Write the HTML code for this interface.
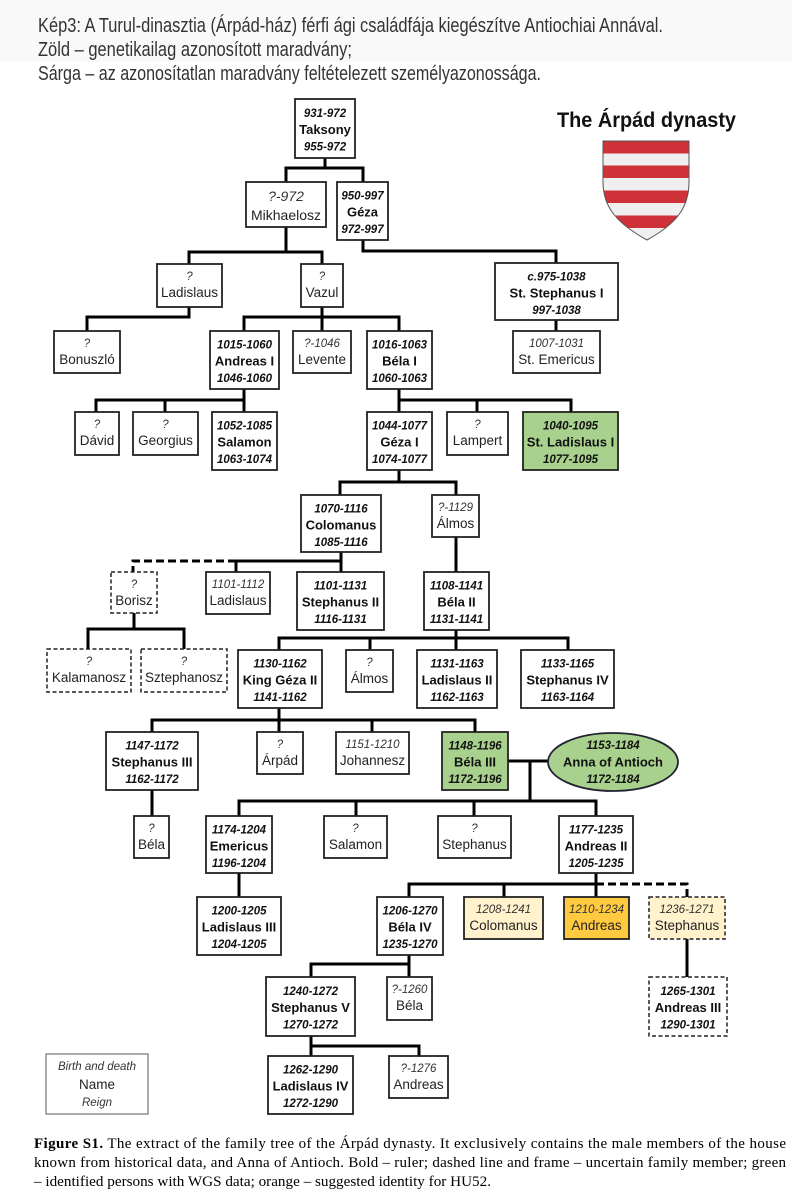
<!DOCTYPE html>
<html><head><meta charset="utf-8"><style>
html,body{margin:0;padding:0;background:#fff;}
svg{display:block;}
.dr{font-family:"Liberation Sans",sans-serif;font-size:11.5px;font-style:italic;font-weight:bold;fill:#111;}
.di{font-family:"Liberation Sans",sans-serif;font-size:11.5px;font-style:italic;fill:#333;}
.nb{font-family:"Liberation Sans",sans-serif;font-size:13px;font-weight:bold;fill:#111;}
.nr{font-family:"Liberation Sans",sans-serif;font-size:13.5px;fill:#222;}
.bx{fill:#fff;stroke:#222;stroke-width:1.8;}
.dbx{fill:#fff;stroke:#222;stroke-width:1.5;stroke-dasharray:4 2.5;}
.ln{fill:none;stroke:#000;stroke-width:3;}
.dl{fill:none;stroke:#000;stroke-width:3;stroke-dasharray:8 4;}
.hd{font-family:"Liberation Sans Narrow","Liberation Sans",sans-serif;font-size:20px;fill:#333;}
.cap{font-family:"Liberation Serif",serif;font-size:15px;fill:#000;}
</style></head><body>
<svg width="792" height="1200" viewBox="0 0 792 1200" xmlns="http://www.w3.org/2000/svg">
<rect x="0" y="0" width="792" height="1200" fill="#fff"/>
<rect x="0" y="0" width="792" height="62" fill="#f9f9f9"/>
<!-- header -->
<text class="hd" x="38" y="32" textLength="625" lengthAdjust="spacingAndGlyphs">Kép3: A Turul-dinasztia (Árpád-ház) férfi ági családfája kiegészítve Antiochiai Annával.</text>
<text class="hd" x="38" y="56" textLength="314" lengthAdjust="spacingAndGlyphs">Zöld – genetikailag azonosított maradvány;</text>
<text class="hd" x="38" y="80" textLength="503" lengthAdjust="spacingAndGlyphs">Sárga – az azonosítatlan maradvány feltételezett személyazonossága.</text>

<!-- title + shield -->
<text x="557" y="127" font-family="Liberation Sans,sans-serif" font-weight="bold" font-size="21" fill="#111" textLength="179" lengthAdjust="spacingAndGlyphs">The Árpád dynasty</text>
<defs><clipPath id="sh"><path d="M603 141H689V182C689 208 676 224 647 240C618 224 603 208 603 182Z"/></clipPath></defs>
<g clip-path="url(#sh)">
<rect x="600" y="140" width="92" height="102" fill="#efefef"/>
<rect x="600" y="140" width="92" height="13.5" fill="#cf3138"/>
<rect x="600" y="165.5" width="92" height="12.5" fill="#cf3138"/>
<rect x="600" y="190.5" width="92" height="12.5" fill="#cf3138"/>
<rect x="600" y="215.5" width="92" height="12.5" fill="#cf3138"/>
</g>
<path d="M603 141H689V182C689 208 676 224 647 240C618 224 603 208 603 182Z" fill="none" stroke="#555" stroke-width="1"/>

<!-- connectors -->
<path class="ln" d="M325 158V168M286 182V168H363V182"/>
<path class="ln" d="M286 227V252M189 264V252H322V264"/>
<path class="ln" d="M363 240V251H556V263"/>
<path class="ln" d="M556 320V331"/>
<path class="ln" d="M189 307V317H87V331"/>
<path class="ln" d="M322 307V331M244 331V317H399V331"/>
<path class="ln" d="M244 389V400M96 412V400H244V412M165 400V412"/>
<path class="ln" d="M399 389V412M399 400H571V412M477 400V412"/>
<path class="ln" d="M399 470V482M340 495V482H456V495"/>
<path class="ln" d="M341 552V572M341 561H236V572"/>
<path class="dl" d="M236 561H133V572"/>
<path class="ln" d="M456 537V572"/>
<path class="ln" d="M134 613V629M88 649V629H184V649"/>
<path class="ln" d="M456 630V650M279 650V638H568V650M370 638V650"/>
<path class="ln" d="M279 708V732M152 732V720H475V732M372 720V732"/>
<path class="ln" d="M508 761H548M530 761V801M239 816V801H596V816M356 801V816M474 801V816"/>
<path class="ln" d="M152 790V816"/>
<path class="ln" d="M239 873V897"/>
<path class="ln" d="M596 873V897M409 897V884H596M504 884V897"/>
<path class="dl" d="M596 884H687V897"/>
<path class="ln" d="M687 939V977"/>
<path class="ln" d="M409 955V977M311 977V964H409"/>
<path class="ln" d="M311 1036V1056M311 1046H419V1056"/>

<!-- Taksony -->
<rect class="bx" x="295" y="99" width="60" height="59"/>
<text class="dr" x="325" y="117" text-anchor="middle">931-972</text>
<text class="nb" x="325" y="134" text-anchor="middle">Taksony</text>
<text class="dr" x="325" y="150.5" text-anchor="middle">955-972</text>
<!-- Mikhaelosz -->
<rect class="bx" x="246" y="182" width="80" height="45"/>
<text class="di" x="286" y="201" text-anchor="middle" style="font-size:14px">?-972</text>
<text class="nr" x="286" y="220" text-anchor="middle" style="font-size:14px">Mikhaelosz</text>
<!-- Géza -->
<rect class="bx" x="337" y="182" width="51" height="58"/>
<text class="dr" x="362.5" y="199.5" text-anchor="middle">950-997</text>
<text class="nb" x="362.5" y="216.5" text-anchor="middle">Géza</text>
<text class="dr" x="362.5" y="233" text-anchor="middle">972-997</text>
<!-- Ladislaus -->
<rect class="bx" x="157" y="264" width="65" height="43"/>
<text class="di" x="189.5" y="280" text-anchor="middle">?</text>
<text class="nr" x="189.5" y="297" text-anchor="middle">Ladislaus</text>
<!-- Vazul -->
<rect class="bx" x="301" y="264" width="42" height="43"/>
<text class="di" x="322" y="280" text-anchor="middle">?</text>
<text class="nr" x="322" y="297" text-anchor="middle">Vazul</text>
<!-- St Stephanus I -->
<rect class="bx" x="495" y="263" width="123" height="57"/>
<text class="dr" x="556.5" y="280.5" text-anchor="middle">c.975-1038</text>
<text class="nb" x="556.5" y="297.5" text-anchor="middle">St. Stephanus I</text>
<text class="dr" x="556.5" y="314" text-anchor="middle">997-1038</text>
<!-- St Emericus -->
<rect class="bx" x="513" y="331" width="87" height="42"/>
<text class="di" x="556.5" y="347" text-anchor="middle">1007-1031</text>
<text class="nr" x="556.5" y="364" text-anchor="middle">St. Emericus</text>
<!-- Bonuszló -->
<rect class="bx" x="54" y="331" width="66" height="42"/>
<text class="di" x="87" y="347" text-anchor="middle">?</text>
<text class="nr" x="87" y="364" text-anchor="middle">Bonuszló</text>
<!-- Andreas I -->
<rect class="bx" x="210" y="331" width="69" height="58"/>
<text class="dr" x="244.5" y="348.5" text-anchor="middle">1015-1060</text>
<text class="nb" x="244.5" y="365.5" text-anchor="middle">Andreas I</text>
<text class="dr" x="244.5" y="382" text-anchor="middle">1046-1060</text>
<!-- Levente -->
<rect class="bx" x="293" y="331" width="58" height="42"/>
<text class="di" x="322" y="347" text-anchor="middle">?-1046</text>
<text class="nr" x="322" y="364" text-anchor="middle">Levente</text>
<!-- Béla I -->
<rect class="bx" x="367" y="331" width="65" height="58"/>
<text class="dr" x="399.5" y="348.5" text-anchor="middle">1016-1063</text>
<text class="nb" x="399.5" y="365.5" text-anchor="middle">Béla I</text>
<text class="dr" x="399.5" y="382" text-anchor="middle">1060-1063</text>
<!-- Dávid -->
<rect class="bx" x="75" y="412" width="44" height="43"/>
<text class="di" x="97" y="428" text-anchor="middle">?</text>
<text class="nr" x="97" y="445" text-anchor="middle">Dávid</text>
<!-- Georgius -->
<rect class="bx" x="133" y="412" width="65" height="43"/>
<text class="di" x="165.5" y="428" text-anchor="middle">?</text>
<text class="nr" x="165.5" y="445" text-anchor="middle">Georgius</text>
<!-- Salamon -->
<rect class="bx" x="212" y="412" width="65" height="58"/>
<text class="dr" x="244.5" y="429.5" text-anchor="middle">1052-1085</text>
<text class="nb" x="244.5" y="446.5" text-anchor="middle">Salamon</text>
<text class="dr" x="244.5" y="463" text-anchor="middle">1063-1074</text>
<!-- Géza I -->
<rect class="bx" x="367" y="412" width="65" height="58"/>
<text class="dr" x="399.5" y="429.5" text-anchor="middle">1044-1077</text>
<text class="nb" x="399.5" y="446.5" text-anchor="middle">Géza I</text>
<text class="dr" x="399.5" y="463" text-anchor="middle">1074-1077</text>
<!-- Lampert -->
<rect class="bx" x="447" y="412" width="61" height="43"/>
<text class="di" x="477.5" y="428" text-anchor="middle">?</text>
<text class="nr" x="477.5" y="445" text-anchor="middle">Lampert</text>
<!-- St Ladislaus I -->
<rect class="bx" x="523" y="412" width="95" height="58" style="fill:#a9d18e"/>
<text class="dr" x="570.5" y="429.5" text-anchor="middle">1040-1095</text>
<text class="nb" x="570.5" y="446.5" text-anchor="middle">St. Ladislaus I</text>
<text class="dr" x="570.5" y="463" text-anchor="middle">1077-1095</text>
<!-- Colomanus -->
<rect class="bx" x="301" y="495" width="80" height="57"/>
<text class="dr" x="341" y="512.5" text-anchor="middle">1070-1116</text>
<text class="nb" x="341" y="529.5" text-anchor="middle">Colomanus</text>
<text class="dr" x="341" y="546" text-anchor="middle">1085-1116</text>
<!-- Álmos -->
<rect class="bx" x="432" y="495" width="47" height="42"/>
<text class="di" x="455.5" y="511" text-anchor="middle">?-1129</text>
<text class="nr" x="455.5" y="528" text-anchor="middle">Álmos</text>
<!-- Borisz -->
<rect class="dbx" x="111" y="572" width="46" height="41"/>
<text class="di" x="134" y="588" text-anchor="middle">?</text>
<text class="nr" x="134" y="605" text-anchor="middle">Borisz</text>
<!-- Ladislaus 1101 -->
<rect class="bx" x="206" y="572" width="64" height="42"/>
<text class="di" x="238" y="588" text-anchor="middle">1101-1112</text>
<text class="nr" x="238" y="605" text-anchor="middle">Ladislaus</text>
<!-- Stephanus II -->
<rect class="bx" x="297" y="572" width="87" height="58"/>
<text class="dr" x="340.5" y="589.5" text-anchor="middle">1101-1131</text>
<text class="nb" x="340.5" y="606.5" text-anchor="middle">Stephanus II</text>
<text class="dr" x="340.5" y="623" text-anchor="middle">1116-1131</text>
<!-- Béla II -->
<rect class="bx" x="424" y="572" width="65" height="58"/>
<text class="dr" x="456.5" y="589.5" text-anchor="middle">1108-1141</text>
<text class="nb" x="456.5" y="606.5" text-anchor="middle">Béla II</text>
<text class="dr" x="456.5" y="623" text-anchor="middle">1131-1141</text>
<!-- Kalamanosz -->
<rect class="dbx" x="47" y="649" width="84" height="43"/>
<text class="di" x="89" y="665" text-anchor="middle">?</text>
<text class="nr" x="89" y="682" text-anchor="middle">Kalamanosz</text>
<!-- Sztephanosz -->
<rect class="dbx" x="141" y="649" width="86" height="43"/>
<text class="di" x="184" y="665" text-anchor="middle">?</text>
<text class="nr" x="184" y="682" text-anchor="middle">Sztephanosz</text>
<!-- King Géza II -->
<rect class="bx" x="238" y="650" width="84" height="58"/>
<text class="dr" x="280" y="667.5" text-anchor="middle">1130-1162</text>
<text class="nb" x="280" y="684.5" text-anchor="middle">King Géza II</text>
<text class="dr" x="280" y="701" text-anchor="middle">1141-1162</text>
<!-- Álmos ? -->
<rect class="bx" x="346" y="650" width="47" height="42"/>
<text class="di" x="369.5" y="666" text-anchor="middle">?</text>
<text class="nr" x="369.5" y="683" text-anchor="middle">Álmos</text>
<!-- Ladislaus II -->
<rect class="bx" x="417" y="650" width="80" height="58"/>
<text class="dr" x="457" y="667.5" text-anchor="middle">1131-1163</text>
<text class="nb" x="457" y="684.5" text-anchor="middle">Ladislaus II</text>
<text class="dr" x="457" y="701" text-anchor="middle">1162-1163</text>
<!-- Stephanus IV -->
<rect class="bx" x="521" y="650" width="93" height="58"/>
<text class="dr" x="567.5" y="667.5" text-anchor="middle">1133-1165</text>
<text class="nb" x="567.5" y="684.5" text-anchor="middle">Stephanus IV</text>
<text class="dr" x="567.5" y="701" text-anchor="middle">1163-1164</text>
<!-- Stephanus III -->
<rect class="bx" x="106" y="732" width="92" height="58"/>
<text class="dr" x="152" y="749.5" text-anchor="middle">1147-1172</text>
<text class="nb" x="152" y="766.5" text-anchor="middle">Stephanus III</text>
<text class="dr" x="152" y="783" text-anchor="middle">1162-1172</text>
<!-- Árpád -->
<rect class="bx" x="257" y="732" width="46" height="42"/>
<text class="di" x="280" y="748" text-anchor="middle">?</text>
<text class="nr" x="280" y="765" text-anchor="middle">Árpád</text>
<!-- Johannesz -->
<rect class="bx" x="336" y="732" width="73" height="42"/>
<text class="di" x="372.5" y="748" text-anchor="middle">1151-1210</text>
<text class="nr" x="372.5" y="765" text-anchor="middle">Johannesz</text>
<!-- Béla III -->
<rect class="bx" x="442" y="732" width="66" height="58" style="fill:#a9d18e"/>
<text class="dr" x="475" y="749.5" text-anchor="middle">1148-1196</text>
<text class="nb" x="475" y="766.5" text-anchor="middle">Béla III</text>
<text class="dr" x="475" y="783" text-anchor="middle">1172-1196</text>
<!-- Anna -->
<ellipse cx="613" cy="762" rx="65" ry="29" fill="#a9d18e" stroke="#223" stroke-width="1.8"/>
<text class="dr" x="613" y="749" text-anchor="middle">1153-1184</text>
<text class="nb" x="613" y="766.5" text-anchor="middle">Anna of Antioch</text>
<text class="dr" x="613" y="783" text-anchor="middle">1172-1184</text>
<!-- Béla ? -->
<rect class="bx" x="134" y="816" width="35" height="42"/>
<text class="di" x="151.5" y="832" text-anchor="middle">?</text>
<text class="nr" x="151.5" y="849" text-anchor="middle">Béla</text>
<!-- Emericus -->
<rect class="bx" x="206" y="816" width="66" height="57"/>
<text class="dr" x="239" y="833.5" text-anchor="middle">1174-1204</text>
<text class="nb" x="239" y="850.5" text-anchor="middle">Emericus</text>
<text class="dr" x="239" y="867" text-anchor="middle">1196-1204</text>
<!-- Salamon ? -->
<rect class="bx" x="324" y="816" width="63" height="42"/>
<text class="di" x="355.5" y="832" text-anchor="middle">?</text>
<text class="nr" x="355.5" y="849" text-anchor="middle">Salamon</text>
<!-- Stephanus ? -->
<rect class="bx" x="438" y="816" width="73" height="42"/>
<text class="di" x="474.5" y="832" text-anchor="middle">?</text>
<text class="nr" x="474.5" y="849" text-anchor="middle">Stephanus</text>
<!-- Andreas II -->
<rect class="bx" x="559" y="816" width="74" height="57"/>
<text class="dr" x="596" y="833.5" text-anchor="middle">1177-1235</text>
<text class="nb" x="596" y="850.5" text-anchor="middle">Andreas II</text>
<text class="dr" x="596" y="867" text-anchor="middle">1205-1235</text>
<!-- Ladislaus III -->
<rect class="bx" x="197" y="897" width="84" height="58"/>
<text class="dr" x="239" y="914.5" text-anchor="middle">1200-1205</text>
<text class="nb" x="239" y="931.5" text-anchor="middle">Ladislaus III</text>
<text class="dr" x="239" y="948" text-anchor="middle">1204-1205</text>
<!-- Béla IV -->
<rect class="bx" x="377" y="897" width="66" height="58"/>
<text class="dr" x="410" y="914.5" text-anchor="middle">1206-1270</text>
<text class="nb" x="410" y="931.5" text-anchor="middle">Béla IV</text>
<text class="dr" x="410" y="948" text-anchor="middle">1235-1270</text>
<!-- Colomanus yellow -->
<rect class="bx" x="464" y="897" width="79" height="42" style="fill:#fff2cc"/>
<text class="di" x="503.5" y="913" text-anchor="middle">1208-1241</text>
<text class="nr" x="503.5" y="930" text-anchor="middle">Colomanus</text>
<!-- Andreas orange -->
<rect class="bx" x="564" y="897" width="65" height="42" style="fill:#ffc940"/>
<text class="di" x="596.5" y="913" text-anchor="middle">1210-1234</text>
<text class="nr" x="596.5" y="930" text-anchor="middle">Andreas</text>
<!-- Stephanus dashed yellow -->
<rect class="dbx" x="649" y="897" width="76" height="42" style="fill:#fff2cc"/>
<text class="di" x="687" y="913" text-anchor="middle">1236-1271</text>
<text class="nr" x="687" y="930" text-anchor="middle">Stephanus</text>
<!-- Andreas III -->
<rect class="dbx" x="649" y="977" width="78" height="59"/>
<text class="dr" x="688" y="995" text-anchor="middle">1265-1301</text>
<text class="nb" x="688" y="1012" text-anchor="middle">Andreas III</text>
<text class="dr" x="688" y="1028.5" text-anchor="middle">1290-1301</text>
<!-- Stephanus V -->
<rect class="bx" x="266" y="977" width="89" height="59"/>
<text class="dr" x="310.5" y="995" text-anchor="middle">1240-1272</text>
<text class="nb" x="310.5" y="1012" text-anchor="middle">Stephanus V</text>
<text class="dr" x="310.5" y="1028.5" text-anchor="middle">1270-1272</text>
<!-- Béla ?-1260 -->
<rect class="bx" x="387" y="977" width="45" height="43"/>
<text class="di" x="409.5" y="993" text-anchor="middle">?-1260</text>
<text class="nr" x="409.5" y="1010" text-anchor="middle">Béla</text>
<!-- Ladislaus IV -->
<rect class="bx" x="268" y="1056" width="85" height="58"/>
<text class="dr" x="310.5" y="1073.5" text-anchor="middle">1262-1290</text>
<text class="nb" x="310.5" y="1090.5" text-anchor="middle">Ladislaus IV</text>
<text class="dr" x="310.5" y="1107" text-anchor="middle">1272-1290</text>
<!-- Andreas ?-1276 -->
<rect class="bx" x="389" y="1056" width="59" height="42"/>
<text class="di" x="418.5" y="1072" text-anchor="middle">?-1276</text>
<text class="nr" x="418.5" y="1089" text-anchor="middle">Andreas</text>
<!-- Legend -->
<rect x="46" y="1054" width="102" height="60" fill="#fff" stroke="#555" stroke-width="1"/>
<text class="di" x="97" y="1070" text-anchor="middle">Birth and death</text>
<text class="nr" x="97" y="1089" text-anchor="middle">Name</text>
<text class="di" x="97" y="1106" text-anchor="middle">Reign</text>

<!-- caption -->
<text class="cap" x="34" y="1148" textLength="752" lengthAdjust="spacing"><tspan font-weight="bold">Figure S1.</tspan> The extract of the family tree of the Árpád dynasty. It exclusively contains the male members of the house</text>
<text class="cap" x="34" y="1167" textLength="752" lengthAdjust="spacing">known from historical data, and Anna of Antioch. Bold – ruler; dashed line and frame – uncertain family member; green</text>
<text class="cap" x="34" y="1186" textLength="457" lengthAdjust="spacingAndGlyphs">– identified persons with WGS data; orange – suggested identity for HU52.</text>
</svg>
</body></html>
